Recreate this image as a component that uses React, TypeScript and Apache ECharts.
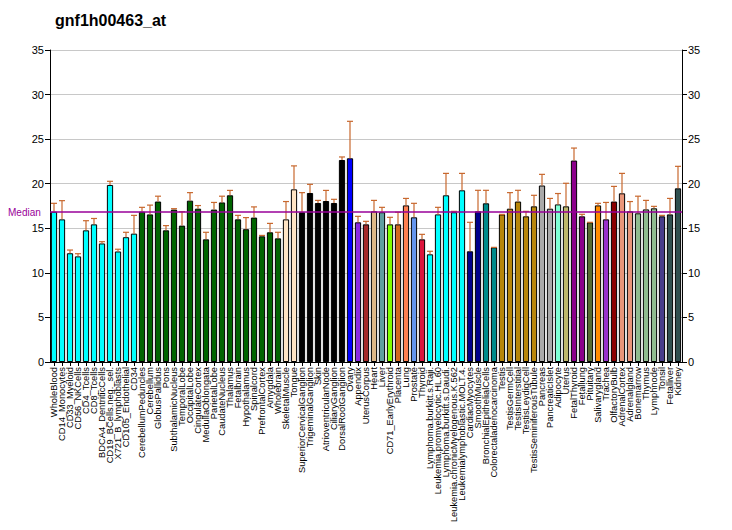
import React, { useEffect, useRef } from "react";
import * as echarts from "echarts";

const categories = [
  "WholeBlood", "CD14_Monocytes", "CD33_Myeloid", "CD56_NKCells", "CD4_Tcells", "CD8_Tcells",
  "BDCA4_DentriticCells", "CD19_BCells.neg._sel.", "X721_B_lymphoblasts", "CD105_Endothelial", "CD34",
  "CerebellumPeduncles", "Cerebellum", "GlobusPallidus", "Pons", "SubthalamicNucleus", "TemporalLobe",
  "OccipitalLobe", "CingulateCortex", "MedullaOblongata", "ParietalLobe", "CaudateNucleus", "Thalamus",
  "Fetalbrain", "Hypothalamus", "Spinalcord", "PrefrontalCortex", "Amygdala", "Wholebrain",
  "SkeletalMuscle", "Tongue", "SuperiorCervicalGanglion", "TrigeminalGanglion", "Skin",
  "AtrioventricularNode", "CiliaryGanglion", "DorsalRootGanglion", "Ovary", "Appendix", "UterusCorpus",
  "Heart", "Liver", "CD71_EarlyErythroid", "Placenta", "Lung", "Prostate", "Thyroid",
  "Lymphoma.burkitt.s.Raji.", "Leukemia.promyelocytic.HL.60", "Lymphoma.burkitt.s.Daudi.",
  "Leukemia.chronicMyelogenous.K.562", "Leukemialymphoblastic.MOLT.4.", "CardiacMyocytes",
  "SmoothMuscle", "BronchialEpithelialCells", "Colorectaladenocarcinoma", "Testis", "TestisGermCell",
  "TestisInterstitial", "TestisLeydigCell", "TestisSeminiferousTubule", "Pancreas", "PancreaticIslet",
  "Adipocyte", "Uterus", "FetalThyroid", "Fetallung", "Pituitary", "Salivarygland", "Trachea",
  "OlfactoryBulb", "AdrenalCortex", "Adrenalgland", "Bonemarrow", "Thymus", "Lymphnode", "Tonsil",
  "Fetalliver", "Kidney",
];

const values = [
  16.86, 16.0, 12.2, 11.85, 14.77, 15.44, 13.3, 19.86, 12.4, 14.0, 14.4,
  16.86, 16.56, 18.0, 14.77, 17.1, 15.3, 18.1, 17.2, 13.76, 17.1, 17.9, 18.7,
  16.0, 14.9, 16.2, 14.1, 14.55, 13.87,
  16.0, 19.37, 16.8, 18.96, 17.84, 18.06, 17.84, 22.66, 22.85, 15.67, 15.44,
  16.9, 16.8, 15.44, 15.44, 17.57, 16.23, 13.76,
  12.08, 16.56, 18.7, 16.8, 19.26, 12.42,
  16.9, 17.8, 12.86, 16.56, 17.2,
  18.0, 16.34, 17.46, 19.8, 17.2,
  17.68, 17.46, 22.6, 16.34, 15.67, 17.57, 16.0,
  18.0, 18.92, 16.9, 16.68, 17.12, 17.24, 16.34,
  16.56, 19.48,
];

const errorTops = [
  17.8, 18.1, 12.56, 12.15, 15.85, 16.1, 13.5, 20.27, 12.65, 14.55, 16.45,
  17.35, 17.6, 18.6, 15.3, 17.2, 16.86, 19.0, 17.55, 14.55, 17.9, 18.6, 19.25,
  16.45, 16.2, 17.4, 14.2, 15.55, 14.55,
  18.0, 22.0, 19.0, 19.93, 18.13, 19.25, 18.25, 23.0, 27.0, 16.34, 15.78,
  18.13, 17.35, 16.23, 16.8, 18.35, 17.8, 14.32,
  12.42, 17.35, 21.16, 16.9, 21.16, 15.67,
  19.26, 19.26, 12.86, 16.56, 19.0,
  19.26, 16.9, 18.7, 21.05, 18.35,
  18.9, 20.05, 24.0, 16.57, 15.67, 17.8, 17.9,
  19.7, 21.16, 18.0, 18.6, 18.13, 17.46, 16.45,
  18.35, 21.95,
];

const barColors = [
  ...Array(11).fill("#00FFFF"),
  ...Array(18).fill("#006400"),
  "#FFE4C4", "#FFE4C4",
  ...Array(6).fill("#000000"),
  "#0000FF", "#8A2BE2", "#A52A2A", "#DEB887", "#5F9EA0", "#7FFF00", "#D2691E", "#FF7F50", "#6495ED", "#DC143C",
  ...Array(5).fill("#00FFFF"),
  "#00008B", "#00008B", "#008B8B", "#008B8B",
  ...Array(5).fill("#B8860B"),
  "#A9A9A9", "#A9A9A9", "#7FFFD4", "#BDB76B", "#8B008B", "#8B008B", "#556B2F", "#FF8C00", "#9932CC", "#8B0000",
  "#E9967A", "#E9967A", "#8FBC8F", "#8FBC8F", "#8FBC8F", "#483D8B", "#2F4F4F", "#2F4F4F",
];

const yTicks = [0, 5, 10, 15, 20, 25, 30, 35];
const medianValue = 16.83;
const title = "gnf1h00463_at";

export default function App() {
  const ref = useRef<HTMLDivElement>(null);
  useEffect(() => {
    if (!ref.current) return;
    document.body.style.margin = "0";
    const chart = echarts.init(ref.current, undefined, { renderer: "svg" });
    const font = "Liberation Sans, Arial, sans-serif";
    const yAxisCommon = {
      type: "value" as const,
      min: yTicks[0],
      max: yTicks[yTicks.length - 1],
      interval: 5,
      axisLine: { show: true, lineStyle: { color: "#000", width: 1 } },
      axisTick: { show: true, length: 5, lineStyle: { color: "#000" } },
      axisLabel: { fontFamily: font, fontSize: 11, color: "#000", margin: 6 },
    };
    chart.setOption({
      animation: false,
      backgroundColor: "#fff",
      title: {
        text: title,
        left: 50,
        top: 7,
        textStyle: { fontFamily: font, fontSize: 16, fontWeight: "bold", color: "#000" },
      },
      grid: { left: 50, right: 50, top: 50, bottom: 168, containLabel: false, outerBoundsMode: "none" },
      xAxis: {
        type: "category",
        data: categories,
        axisLine: { show: true, lineStyle: { color: "#000" } },
        axisTick: { show: true, alignWithLabel: true, length: 4, lineStyle: { color: "#000" } },
        axisLabel: {
          interval: 0,
          rotate: 90,
          margin: 5,
          fontFamily: font,
          fontSize: 9.3,
          color: "#000",
        },
      },
      yAxis: [
        { ...yAxisCommon, position: "left", splitLine: { show: true, lineStyle: { color: "#c8c8c8", width: 1 } } },
        { ...yAxisCommon, position: "right", splitLine: { show: false } },
      ],
      series: [
        {
          type: "bar",
          data: values.map((v, i) => ({ value: v, itemStyle: { color: barColors[i] } })),
          barCategoryGap: "22%",
          itemStyle: { borderColor: "#000", borderWidth: 1 },
          markLine: {
            silent: true,
            symbol: "none",
            label: { show: false },
            lineStyle: { color: "#990099", width: 1.5, type: "solid" },
            data: [{ yAxis: medianValue }],
          },
          z: 2,
        },
        {
          type: "custom",
          data: values.map((v, i) => [i, v, errorTops[i]]),
          z: 3,
          renderItem: (params: any, api: any) => {
            const i = api.value(0);
            const base = api.coord([i, api.value(1)]);
            const top = api.coord([i, api.value(2)]);
            const style = { stroke: "#C8682E", lineWidth: 1.2 };
            return {
              type: "group",
              children: [
                { type: "line", shape: { x1: base[0], y1: base[1], x2: top[0], y2: top[1] }, style },
                { type: "line", shape: { x1: top[0] - 3, y1: top[1], x2: top[0] + 3, y2: top[1] }, style },
              ],
            };
          },
        },
      ],
      graphic: [
        {
          type: "text",
          left: 8,
          top: 207,
          style: { text: "Median", fill: "#990099", fontSize: 10, fontFamily: font },
        },
      ],
    });
    return () => chart.dispose();
  }, []);
  return <div ref={ref} style={{ width: 732, height: 530 }} />;
}
